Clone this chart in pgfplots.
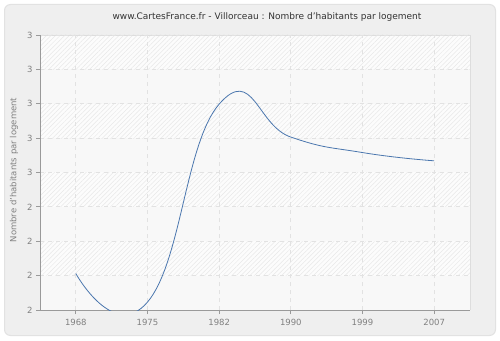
\documentclass[border=0pt]{standalone}
\usepackage{fontspec}
\setmainfont{DejaVu Sans}
\usepackage{pgfplots}
\pgfplotsset{compat=1.18}
\usetikzlibrary{patterns.meta}
\definecolor{bgout}{HTML}{EFEFEF}
\definecolor{bordc}{HTML}{E2E2E2}
\definecolor{bandlight}{HTML}{F8F8F8}
\definecolor{bandhatch}{HTML}{FCFCFC}
\definecolor{hatch}{HTML}{E8E8E8}
\definecolor{axisc}{HTML}{9A9A9A}
\definecolor{gridc}{HTML}{E2E2E2}
\definecolor{labc}{HTML}{808080}
\definecolor{titc}{HTML}{333333}
\definecolor{linec}{HTML}{4A76AE}
\definecolor{lightborder}{HTML}{DDDDDD}
\begin{document}
\begin{tikzpicture}[x=1pt,y=1pt]
\useasboundingbox (0,0) rectangle (500,340);
\fill[white] (0,0) rectangle (500,340);
\filldraw[fill=bgout, draw=bordc, line width=1pt, rounded corners=6pt] (4.5,4.5) rectangle (495.5,335.5);
\fill[bandlight] (40,30) rectangle (470,305);
\foreach \k in {1,3,5,7} {
  \fill[bandhatch] (40,{30+34.375*\k}) rectangle (470,{30+34.375*(\k+1)});
  \fill[pattern={Lines[angle=45,distance=3.2pt,line width=0.5pt]}, pattern color=hatch] (40,{30+34.375*\k}) rectangle (470,{30+34.375*(\k+1)});
}
\draw[lightborder] (40,305) -- (470,305) -- (470,30);
\begin{axis}[
  at={(40pt,30pt)}, anchor=south west,
  width=430pt, height=275pt, scale only axis,
  xmin=-0.5, xmax=5.5, ymin=2.1, ymax=2.9,
  xtick={0,1,2,3,4,5},
  xticklabels={1968,1975,1982,1990,1999,2007},
  ytick={2.1,2.2,2.3,2.4,2.5,2.6,2.7,2.8,2.9},
  yticklabels={2,2,2,2,3,3,3,3,3},
  axis x line*=bottom, axis y line*=left,
  axis line style={color=axisc, line width=0.8pt},
  tick style={color=axisc, line width=0.8pt},
  tick align=outside, major tick length=4pt,
  grid=major,
  grid style={color=gridc, line width=0.8pt, dash pattern=on 4pt off 4pt},
  ticklabel style={font=\fontsize{8.5}{10}\selectfont, text=labc},
  xticklabel style={yshift=-2pt},
]
\addplot[color=linec, line width=0.8pt, smooth, tension=0.85] coordinates {
  (0,2.206) (1,2.123) (2,2.699) (3,2.603) (4,2.558) (5,2.534)
};
\end{axis}
\node[text=titc, font=\fontsize{9}{11}\selectfont] at (267,323) {www.CartesFrance.fr - Villorceau : Nombre d'habitants par logement};
\node[text=labc, font=\fontsize{8.5}{10}\selectfont, rotate=90] at (14,170) {Nombre d'habitants par logement};
\end{tikzpicture}
\end{document}
